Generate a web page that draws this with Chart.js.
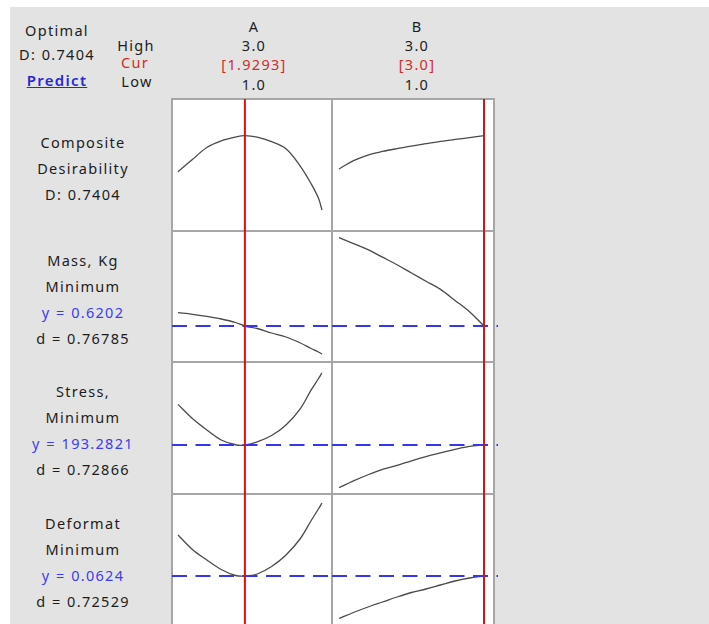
<!DOCTYPE html>
<html>
<head>
<meta charset="utf-8">
<script src="https://cdn.jsdelivr.net/npm/chart.js@4.4.0/dist/chart.umd.min.js"></script>
<style>
  body { margin: 0; width: 709px; height: 624px; background: #fff; position: relative; overflow: hidden;
         font-family: "Noto Sans", "Open Sans", sans-serif; color: #1c1c1c; }
  #bg { position: absolute; left: 10px; top: 7px; width: 699px; height: 617px; background: #e3e3e3; }
  #plotbg { position: absolute; left: 172px; top: 99px; width: 322px; height: 525px; background: #fff; }
  .gl { position: absolute; background: #a6a6a6; }
  .t { position: absolute; transform: translate(-50%, -50%); white-space: nowrap; font-size: 14.5px;
       letter-spacing: 1.3px; word-spacing: 0.5px; }
  .red { color: #d42a2a; }
  .blue { color: #3b3bf0; }
  canvas { position: absolute; }
</style>
</head>
<body>
<div id="bg"></div>
<div id="plotbg"></div>
<div id="labels"></div>
<div id="charts"></div>

<script>
// factor settings
const factorNames = ['A', 'B'];
const factorHigh = ['3.0', '3.0'];
const factorLow = ['1.0', '1.0'];
const factorCurLabel = ['[1.9293]', '[3.0]'];
const factorCur = [1.9293, 3.0];

// x values
const factorA = [1.0, 1.2, 1.4, 1.6, 1.8, 1.9293, 2.1, 2.3, 2.5, 2.7, 2.85, 2.95, 3.0];
const factorB = [1.0, 1.2, 1.4, 1.6, 1.8, 2.0, 2.2, 2.4, 2.6, 2.8, 3.0];

// composite desirability
const compositeA = [0.486, 0.572, 0.657, 0.704, 0.731, 0.7404, 0.730, 0.698, 0.648, 0.524, 0.40, 0.30, 0.215];
const compositeB = [0.505, 0.564, 0.604, 0.629, 0.649, 0.667, 0.684, 0.700, 0.714, 0.727, 0.7404];

// Mass, Kg
const massA = [0.6335, 0.6319, 0.6298, 0.6272, 0.6237, 0.6202, 0.6177, 0.6132, 0.6092, 0.6032, 0.5977, 0.5942, 0.5922];
const massB = [0.7085, 0.7025, 0.6965, 0.6890, 0.6815, 0.6732, 0.6650, 0.6568, 0.6458, 0.6345, 0.6202];

// Stress
const stressA = [213.6, 206.5, 200.8, 195.8, 193.4, 193.28, 194.8, 198.0, 203.3, 211.5, 220.8, 226.4, 229.4];
const stressB = [171.9, 175.3, 178.4, 181.1, 183.1, 185.4, 187.5, 189.3, 191.1, 192.6, 193.28];

// Deformat
const deformA = [0.0706, 0.0677, 0.0656, 0.0637, 0.0625, 0.0624, 0.0628, 0.0643, 0.0666, 0.0699, 0.0735, 0.0758, 0.0770];
const deformB = [0.0539, 0.0551, 0.0562, 0.0572, 0.0582, 0.0591, 0.0598, 0.0606, 0.0614, 0.0620, 0.0624];

// response panel texts
const responseLabels = [
    ['Composite', 'Desirability', 'D: 0.7404'],
    ['Mass, Kg', 'Minimum', 'y = 0.6202', 'd = 0.76785'],
    ['Stress,', 'Minimum', 'y = 193.2821', 'd = 0.72866'],
    ['Deformat', 'Minimum', 'y = 0.0624', 'd = 0.72529']
];
const responseOpt = [null, 0.6202, 193.2821, 0.0624];
const responseRange = [[0.0667, 1.0], [0.5842, 0.7152], [168.78, 234.78], [0.0524, 0.0788]];

// layout of the grid (pixels)
const rowTops = [99, 231, 362, 494];
const rowHeights = [132, 131, 132, 132];
const labelOffsets = [43, 29, 29, 29];
const colLefts = [172, 332];
const colWidths = [160, 166];
const colRanges = [[0.9167, 3.139], [0.9034, 3.193]];

const labelsEl = document.getElementById('labels');
function addText(txt, x, y, cls, extra) {
    const d = document.createElement('div');
    d.className = 't' + (cls ? ' ' + cls : '');
    d.textContent = txt;
    d.style.left = x + 'px';
    d.style.top = y + 'px';
    if (extra) Object.assign(d.style, extra);
    labelsEl.appendChild(d);
}

// header on the left
addText('Optimal', 57, 30);
addText('D: 0.7404', 57, 54);
addText('Predict', 57, 80, 'blue', { textDecoration: 'underline', fontWeight: '600', fontSize: '15px', color: '#2828d8' });
addText('High', 136, 45);
addText('Cur', 135, 62, 'red');
addText('Low', 137, 81);

// factor headers
const headerX = [254, 417];
factorNames.forEach((name, i) => {
    addText(name, headerX[i], 26);
    addText(factorHigh[i], headerX[i], 45);
    addText(factorCurLabel[i], headerX[i], 64, 'red');
    addText(factorLow[i], headerX[i], 84);
});

// response labels on the left
responseLabels.forEach((lines, r) => {
    const top = rowTops[r] + labelOffsets[r];
    lines.forEach((txt, k) => {
        const cls = txt.startsWith('y =') ? 'blue' : '';
        addText(txt, 83, top + k * 26, cls);
    });
});

// grid lines
function addLine(x, y, w, h) {
    const d = document.createElement('div');
    d.className = 'gl';
    Object.assign(d.style, { left: x + 'px', top: y + 'px', width: w + 'px', height: h + 'px' });
    document.body.insertBefore(d, document.getElementById('charts'));
}
[171, 331, 493].forEach(x => addLine(x, 98, 2, 530));
[98, 230, 361, 493].forEach(y => addLine(171, y, 324, 2));

// one small chart per cell
const seriesByRow = [[compositeA, compositeB], [massA, massB], [stressA, stressB], [deformA, deformB]];
const factorX = [factorA, factorB];
const chartsEl = document.getElementById('charts');

seriesByRow.forEach((pair, r) => {
    pair.forEach((vals, c) => {
        const cv = document.createElement('canvas');
        cv.width = colWidths[c];
        cv.height = rowHeights[r];
        cv.style.left = colLefts[c] + 'px';
        cv.style.top = rowTops[r] + 'px';
        chartsEl.appendChild(cv);

        const [ymin, ymax] = responseRange[r];
        const [xmin, xmax] = colRanges[c];
        const datasets = [{
            data: factorX[c].map((x, i) => ({ x, y: vals[i] })),
            borderColor: '#4a4a4a',
            borderWidth: 1.3,
            pointRadius: 0,
            tension: 0.35,
            order: 3
        }, {
            data: [{ x: factorCur[c], y: ymin }, { x: factorCur[c], y: ymax }],
            borderColor: '#e01010',
            borderWidth: 2,
            pointRadius: 0,
            order: 0
        }];
        if (responseOpt[r] !== null) {
            datasets.push({
                data: [{ x: xmin, y: responseOpt[r] }, { x: xmax, y: responseOpt[r] }],
                borderColor: '#3636ee',
                borderWidth: 2,
                borderDash: [15, 8.5],
                pointRadius: 0,
                order: 1
            });
        }

        new Chart(cv, {
            type: 'line',
            data: { datasets },
            options: {
                responsive: false,
                animation: false,
                events: [],
                layout: { padding: 0 },
                plugins: { legend: { display: false }, tooltip: { enabled: false } },
                scales: {
                    x: { type: 'linear', display: false, min: xmin, max: xmax },
                    y: { type: 'linear', display: false, min: ymin, max: ymax }
                }
            }
        });
    });
});
</script>
</body>
</html>
